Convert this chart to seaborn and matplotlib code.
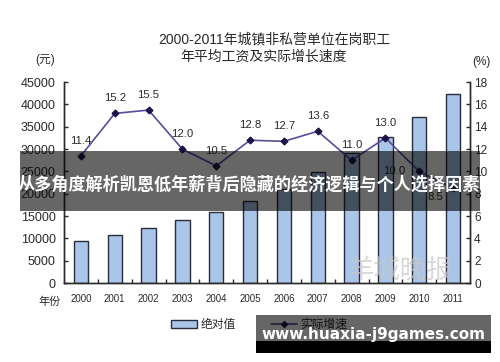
import matplotlib
matplotlib.use("Agg")
import matplotlib.pyplot as plt
import seaborn as sns
import numpy as np
import pandas as pd
from matplotlib.patches import Rectangle, Patch
from matplotlib.lines import Line2D

# ---- data ----
years = ["2000", "2001", "2002", "2003", "2004", "2005",
         "2006", "2007", "2008", "2009", "2010", "2011"]
wages = [9371, 10870, 12422, 14040, 16024, 18364,
         21001, 24932, 29229, 32736, 37147, 42452]
growth = [11.4, 15.2, 15.5, 12.0, 10.5, 12.8,
          12.7, 13.6, 11.0, 13.0, 10.0, 8.5]
left_ticks = [0, 5000, 10000, 15000, 20000, 25000, 30000, 35000, 40000, 45000]
right_ticks = [0, 2, 4, 6, 8, 10, 12, 14, 16, 18]
title_line1 = "2000-2011年城镇非私营单位在岗职工"
title_line2 = "年平均工资及实际增长速度"
legend_bar = "绝对值"
legend_line = "实际增速"
banner_text = "从多角度解析凯恩低年薪背后隐藏的经济逻辑与个人选择因素"
site_text = "www.huaxia-j9games.com"

BAR_FC = "#a9c5e8"
BAR_EC = "#2b2b3b"
LINE_C = "#5b4b9b"
MARK_C = "#1c1248"
TXT = "#2a2a2a"

sns.set_theme(style="white")
plt.rcParams['font.family'] = ['Liberation Sans', 'Noto Sans CJK SC', 'DejaVu Sans']

fig = plt.figure(figsize=(5, 3.62), dpi=100)
ax = fig.add_axes([0.128, 0.218, 0.812, 0.555])

df = pd.DataFrame({"year": years, "wage": wages, "growth": growth})
sns.barplot(data=df, x="year", y="wage", ax=ax, color=BAR_FC,
            edgecolor=BAR_EC, linewidth=1, width=0.42, saturation=1)

ax2 = ax.twinx()
sns.pointplot(data=df, x="year", y="growth", ax=ax2, color=LINE_C,
              markers="D", errorbar=None, markersize=3.5, linewidth=1.2,
              markerfacecolor=MARK_C, markeredgecolor=MARK_C)

for ax_ in (ax, ax2):
    ax_.set_xlim(-0.5, 11.5)
    ax_.set_xlabel("")
    ax_.set_ylabel("")
    ax_.spines['top'].set_visible(False)
    for s in ax_.spines.values():
        s.set_color(TXT)
        s.set_linewidth(1)

ax.set_ylim(0, 45000)
ax.set_yticks(left_ticks)
ax.set_yticklabels([str(t) for t in left_ticks])
ax.tick_params(axis='y', direction='in', length=3, width=1, labelsize=9,
               labelcolor=TXT, color=TXT, pad=6, left=True)
ax.tick_params(axis='x', length=0, labelsize=7, labelcolor=TXT, pad=8)
ax.set_xticks(np.arange(0.5, 11, 1), minor=True)
ax.tick_params(axis='x', which='minor', direction='in', length=3, width=1,
               color=TXT, bottom=True)

ax2.set_ylim(0, 18)
ax2.set_yticks(right_ticks)
ax2.set_yticklabels([str(t) for t in right_ticks])
ax2.tick_params(axis='y', direction='in', length=3, width=1, labelsize=8.5,
                labelcolor=TXT, color=TXT, pad=3, right=True)

offsets = [(0, 11)] * 10 + [(-18, 0), (-13, -6)]
for i, v in enumerate(growth):
    ax2.annotate(f"{v:.1f}", (i, v), xytext=offsets[i], textcoords='offset points',
                 ha='center', va='center', fontsize=8.2, color=TXT)

# titles and axis notes
fig.text(274 / 500, 1 - 39 / 362, title_line1, ha='center', va='center',
         fontsize=10, color=TXT, family=['Liberation Sans', 'Noto Sans CJK SC'])
fig.text(264 / 500, 1 - 57 / 362, title_line2, ha='center', va='center',
         fontsize=10, color=TXT, family=['Noto Sans CJK SC'])
fig.text(45 / 500, 1 - 60 / 362, "(元)", ha='center', va='center', fontsize=8.5, color=TXT)
fig.text(481 / 500, 1 - 62 / 362, "(%)", ha='center', va='center', fontsize=8.5, color=TXT)
fig.text(50 / 500, 1 - 302 / 362, "年份", ha='center', va='center', fontsize=8, color=TXT)

# legend
handles = [Patch(facecolor=BAR_FC, edgecolor=BAR_EC, linewidth=1, label=legend_bar),
           Line2D([], [], color=LINE_C, marker='D', markersize=3,
                  markerfacecolor=MARK_C, markeredgecolor=MARK_C, lw=1.2, label=legend_line)]
fig.legend(handles=handles, loc='center', bbox_to_anchor=(0.518, 1 - 325 / 362),
           ncol=2, frameon=False, fontsize=8.5, handlelength=2.2, handleheight=0.6,
           columnspacing=3, handletextpad=0.3, labelcolor=TXT)

# faint newspaper watermark
fig.text(400 / 500, 1 - 271 / 362, "羊城晚报", ha='center', va='center', fontsize=19,
         color='#c8c8c8', alpha=0.7, family=['Noto Sans CJK SC'], zorder=9)

# banner overlay
fig.add_artist(Rectangle((20 / 500, 1 - 211 / 362), 460 / 500, 60 / 362,
                         transform=fig.transFigure, facecolor='black', alpha=0.6,
                         edgecolor='none', zorder=10))
fig.text(0.498, 1 - 185 / 362, banner_text, ha='center', va='center', color='white',
         fontsize=12.3, fontweight='bold', family=['Noto Sans CJK SC'], zorder=11)

# site watermark box
fig.add_artist(Rectangle((256 / 500, 1 - 341 / 362), 235 / 500, 26 / 362,
                         transform=fig.transFigure, facecolor='black', alpha=0.6,
                         edgecolor='none', zorder=10))
fig.add_artist(Rectangle((256 / 500, 1 - 353 / 362), 235 / 500, 12 / 362,
                         transform=fig.transFigure, facecolor='black',
                         edgecolor='none', zorder=10))
fig.text(373 / 500, 1 - 334 / 362, site_text, ha='center', va='center', color='white',
         fontsize=11, fontweight='bold', family=['DejaVu Sans'], zorder=11)

fig.savefig("out.png", dpi=100)
